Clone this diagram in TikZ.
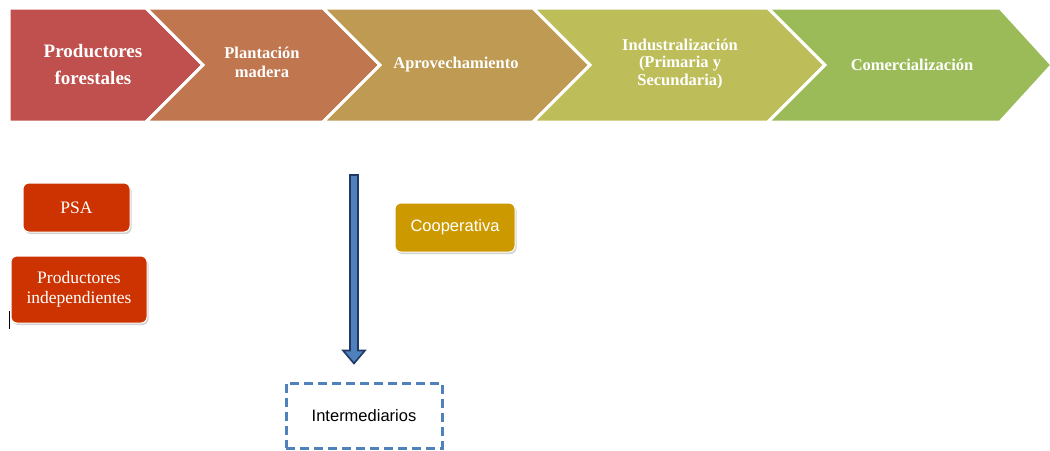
\documentclass[tikz,border=0pt]{standalone}
\usepackage{fontspec}
\setmainfont{Liberation Serif}
\setsansfont{Liberation Sans}
\usetikzlibrary{shadows,calc}
\definecolor{cA}{HTML}{C0504D}
\definecolor{cB}{HTML}{C0764F}
\definecolor{cC}{HTML}{BE9A52}
\definecolor{cD}{HTML}{BDBD5A}
\definecolor{cE}{HTML}{9BBB59}
\definecolor{redbox}{HTML}{CC3300}
\definecolor{goldbox}{HTML}{CC9900}
\definecolor{arrfill}{HTML}{4F81BD}
\definecolor{arrdark}{HTML}{1F3864}
\definecolor{dashblue}{HTML}{4F81BD}
\tikzset{
  chev/.style={draw=white, line width=3pt, line join=miter},
  chevtext/.style={text=white, align=center, inner sep=0pt},
  roundbox/.style={rounded corners=6pt, draw=white, line width=1pt,
    drop shadow={opacity=0.35, shadow xshift=1.5pt, shadow yshift=-2pt},
    text=white, align=center, inner sep=2pt},
  redstyle/.style={roundbox, fill=redbox, font=\fontsize{17.5}{19.5}\selectfont},
  goldstyle/.style={roundbox, fill=goldbox, font=\sffamily\fontsize{16.5}{19}\selectfont},
  dashbox/.style={draw=dashblue, line width=3pt, dash pattern=on 9pt off 5pt,
    font=\sffamily\fontsize{16.5}{19}\selectfont, text=black},
  bigarrow/.style={fill=arrfill, draw=arrdark, line width=1.6pt, line join=miter}
}
\begin{document}
\begin{tikzpicture}[x=1pt,y=-1pt]
\useasboundingbox (0,0) rectangle (1050,450);
% chevrons
\filldraw[chev, fill=cA] (9,8) -- (146,8) -- (203,65) -- (146,122) -- (9,122) -- cycle;
\filldraw[chev, fill=cB] (146,8) -- (323,8) -- (380,65) -- (323,122) -- (146,122) -- (203,65) -- cycle;
\filldraw[chev, fill=cC] (323,8) -- (533,8) -- (590,65) -- (533,122) -- (323,122) -- (380,65) -- cycle;
\filldraw[chev, fill=cD] (533,8) -- (768,8) -- (825,65) -- (768,122) -- (533,122) -- (590,65) -- cycle;
\filldraw[chev, fill=cE] (768,8) -- (1000,8) -- (1052,65) -- (1000,122) -- (768,122) -- (825,65) -- cycle;
\node[chevtext, font=\bfseries\fontsize{19}{27}\selectfont] (t1) at (93,64) {Productores\\forestales};
\node[chevtext, font=\bfseries\fontsize{16.5}{19}\selectfont] (t2) at (262,62) {Plantación\\madera};
\node[chevtext, font=\bfseries\fontsize{16.5}{19}\selectfont] (t3) at (456,65) {Aprovechamiento};
\node[chevtext, font=\bfseries\fontsize{16.5}{17.5}\selectfont] (t4) at (680,64) {Industralización\\(Primaria y\\Secundaria)};
\node[chevtext, font=\bfseries\fontsize{16.5}{19}\selectfont] (t5) at (912,65) {Comercialización};
% boxes
\node[redstyle, minimum width=107pt, minimum height=49pt] (psa) at (76.5,207.5) {PSA};
\node[redstyle, minimum width=136pt, minimum height=67pt] (prodind) at (79,289.5) {Productores\\independientes};
\node[goldstyle, minimum width=120pt, minimum height=49pt] (coop) at (455,227.5) {Cooperativa};
\node[dashbox, minimum width=156pt, minimum height=65pt] (inter) at (364,415.5) {Intermediarios};
% cursor mark
\draw[line width=0.8pt] (9,311) -- (9,329);
% arrow
\coordinate (as) at (354,175);
\coordinate (ae) at ($(inter.north)+(-10,-18)$);
\filldraw[bigarrow] ($(as)+(-4,0)$) -- ($(ae)+(-4,-13)$) -- ($(ae)+(-11,-13)$) -- (ae)
  -- ($(ae)+(11,-13)$) -- ($(ae)+(4,-13)$) -- ($(as)+(4,0)$) -- cycle;
\end{tikzpicture}
\end{document}
